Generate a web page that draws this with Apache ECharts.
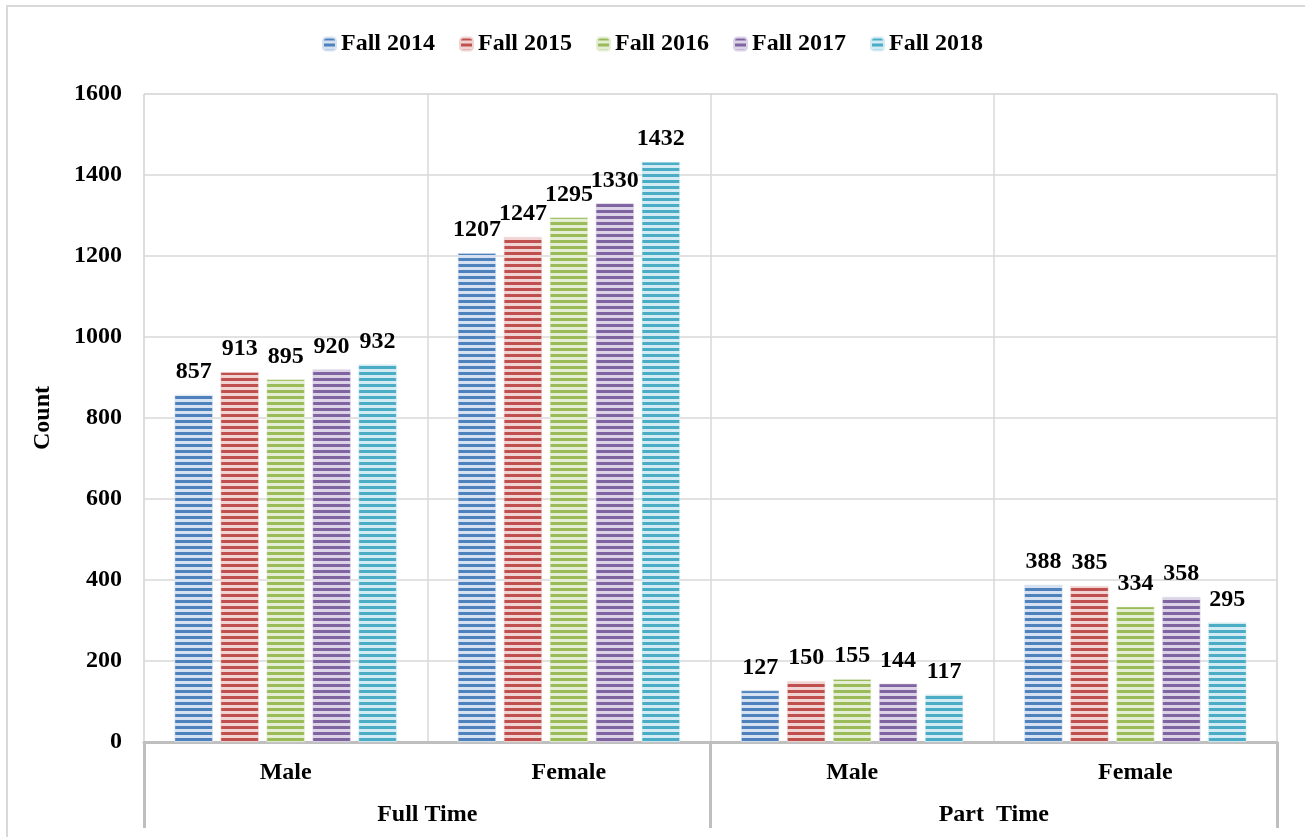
<!DOCTYPE html>
<html>
<head>
<meta charset="utf-8">
<script src="https://cdn.jsdelivr.net/npm/echarts@6/dist/echarts.min.js"></script>
<style>
html,body{margin:0;padding:0;background:#fff;}
#chart{width:1305px;height:837px;}
</style>
</head>
<body>
<div id="chart"></div>
<script>
const categories = ['Male', 'Female', 'Male', 'Female'];
const groups = ['Full Time', 'Part  Time'];
const seriesNames = ['Fall 2014', 'Fall 2015', 'Fall 2016', 'Fall 2017', 'Fall 2018'];
const fall2014 = [857, 1207, 127, 388];
const fall2015 = [913, 1247, 150, 385];
const fall2016 = [895, 1295, 155, 334];
const fall2017 = [920, 1330, 144, 358];
const fall2018 = [932, 1432, 117, 295];
const yTicks = [0, 200, 400, 600, 800, 1000, 1200, 1400, 1600];

const seriesValues = [fall2014, fall2015, fall2016, fall2017, fall2018];
const baseColors = ['#4F81BD', '#C0504D', '#9BBB59', '#8064A2', '#4BACC6'];
const lightColors = ['#D6E2F1', '#F0D4D3', '#E4EED4', '#DCD3E6', '#D3EBF2'];

function makePattern(dark, light) {
  const c = document.createElement('canvas');
  c.width = 4; c.height = 6;
  const ctx = c.getContext('2d');
  ctx.fillStyle = light; ctx.fillRect(0, 0, 4, 6);
  ctx.fillStyle = dark; ctx.fillRect(0, 0, 4, 3);
  return { image: c, repeat: 'repeat' };
}

const font = '"Liberation Serif", "Times New Roman", serif';
const FS = 24;
const chart = echarts.init(document.getElementById('chart'), null, { renderer: 'canvas' });

const series = seriesNames.map((name, i) => ({
  name: name,
  type: 'bar',
  xAxisIndex: 0,
  data: seriesValues[i],
  barWidth: 38,
  barGap: '21%',
  itemStyle: { color: makePattern(baseColors[i], lightColors[i]), borderColor: lightColors[i], borderWidth: 0.5 },
  label: {
    show: true, position: 'top', distance: 11,
    color: '#000', fontFamily: font, fontWeight: 'bold', fontSize: FS
  }
}));

chart.setOption({
  animation: false,
  backgroundColor: '#fff',
  graphic: [{
    type: 'rect', shape: { x: 7, y: 6, width: 1400, height: 900 },
    style: { fill: 'none', stroke: '#d9d9d9', lineWidth: 2 }, z: 100
  }],
  legend: {
    top: 27, left: 'center',
    itemWidth: 13, itemHeight: 13, itemGap: 24,
    textStyle: { fontFamily: font, fontWeight: 'bold', fontSize: FS, color: '#000' },
    data: seriesNames
  },
  grid: { left: 144, right: 28, top: 94, bottom: 95, containLabel: false, show: true, borderColor: '#d9d9d9', borderWidth: 1 },
  xAxis: [{
    type: 'category', data: categories, position: 'bottom',
    axisLine: { show: true, lineStyle: { color: '#bfbfbf', width: 3 } },
    axisTick: { show: false },
    splitLine: { show: true, interval: 0, lineStyle: { color: '#d9d9d9', width: 1.5 } },
    axisLabel: { interval: 0, margin: 19, color: '#000', fontFamily: font, fontWeight: 'bold', fontSize: FS }
  }, {
    type: 'category', data: groups, position: 'bottom', offset: 0,
    axisLine: { show: false },
    axisTick: { show: true, length: 86, inside: false, interval: 0, lineStyle: { color: '#bfbfbf', width: 3 } },
    splitLine: { show: false },
    axisLabel: { interval: 0, margin: 61, color: '#000', fontFamily: font, fontWeight: 'bold', fontSize: FS }
  }],
  yAxis: {
    type: 'value', min: 0, max: yTicks[yTicks.length - 1], interval: 200,
    name: 'Count', nameLocation: 'middle', nameGap: 89, nameRotate: 90,
    nameTextStyle: { color: '#000', fontFamily: font, fontWeight: 'bold', fontSize: FS },
    axisLine: { show: false }, axisTick: { show: false },
    splitLine: { show: true, lineStyle: { color: '#d9d9d9', width: 1.5 } },
    axisLabel: { margin: 22, color: '#000', fontFamily: font, fontWeight: 'bold', fontSize: FS,
      formatter: function (v) { return String(v); } }
  },
  series: series
});
</script>
</body>
</html>
